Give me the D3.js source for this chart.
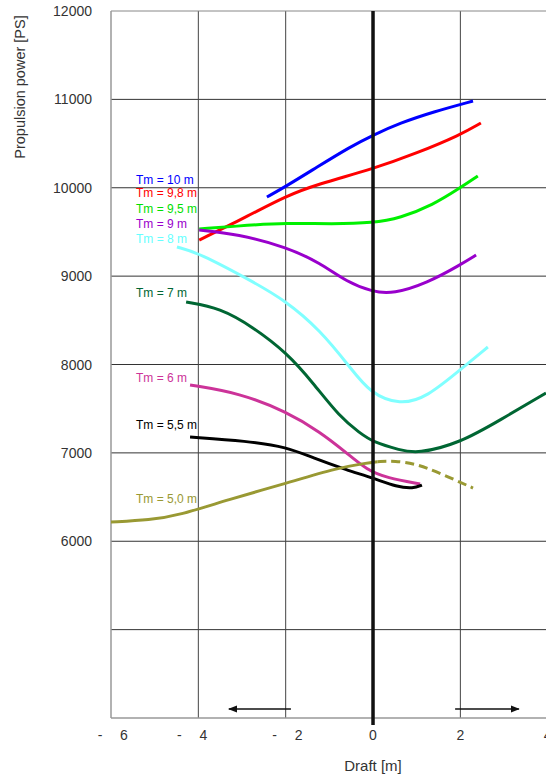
<!DOCTYPE html>
<html>
<head>
<meta charset="utf-8">
<script src="https://cdn.jsdelivr.net/npm/d3@7"></script>
<style>
  html, body { margin: 0; padding: 0; background: #fff; overflow: hidden; }
  svg { display: block; font-family: "Liberation Sans", Arial, sans-serif; }
</style>
</head>
<body>
<svg id="chart" width="546" height="777"></svg>
<script>
// Draft values (m) and propulsion power (PS) per mean draft Tm
const tm10  = [[-2.43, 9895], [-2.02, 10008], [-1.28, 10234], [-0.53, 10461], [0, 10596], [0.62, 10732], [1.37, 10857], [2.29, 10981]];
const tm98  = [[-3.98, 9408], [-2.82, 9691], [-2.02, 9900], [-1.28, 10040], [0, 10212], [1.01, 10393], [1.99, 10596], [2.47, 10732]];
const tm95  = [[-3.98, 9533], [-2.82, 9578], [-2.02, 9601], [-0.92, 9590], [0, 9601], [0.62, 9657], [1.37, 9804], [1.99, 9997], [2.40, 10133]];
const tm9   = [[-3.98, 9522], [-3.11, 9476], [-1.97, 9329], [-1.21, 9148], [-0.60, 8933], [0, 8820], [0.46, 8800], [1.24, 8922], [1.99, 9126], [2.36, 9239]];
const tm8   = [[-4.49, 9329], [-3.98, 9261], [-2.82, 8956], [-2.02, 8730], [-1.21, 8390], [-0.53, 7971], [-0.07, 7677], [0.62, 7540], [1.24, 7632], [1.99, 7937], [2.63, 8198]];
const tm7   = [[-4.28, 8707], [-3.50, 8639], [-2.75, 8424], [-1.97, 8130], [-1.37, 7790], [-0.76, 7406], [-0.30, 7225], [0, 7123], [0.62, 7032], [1.01, 6990], [1.99, 7111], [2.91, 7372], [3.96, 7677]];
const tm6   = [[-4.19, 7768], [-3.05, 7677], [-1.97, 7462], [-1.21, 7236], [-0.60, 6998], [-0.14, 6806], [0.32, 6716], [1.08, 6648]];
const tm55  = [[-4.19, 7179], [-2.89, 7134], [-1.97, 7066], [-1.37, 6942], [-0.60, 6806], [0, 6716], [0.55, 6614], [0.92, 6595], [1.12, 6636]];
const tm50  = [[-6.00, 6218], [-5.11, 6240], [-4.42, 6297], [-3.34, 6467], [-1.97, 6659], [-0.82, 6829], [-0.14, 6885], [0.10, 6900]];
const tm50d = [[0.10, 6900], [0.50, 6910], [1.00, 6875], [1.53, 6772], [2.29, 6602]];

const yTicks = [6000, 7000, 8000, 9000, 10000, 11000, 12000];
const yGrid  = [5000, 6000, 7000, 8000, 9000, 10000, 11000];
const xTicks = [-6, -4, -2, 0, 2, 4];

const series = [
  { data: tm10,  color: "#0000ff" },
  { data: tm98,  color: "#ff0000" },
  { data: tm95,  color: "#00f000" },
  { data: tm9,   color: "#9900cc" },
  { data: tm8,   color: "#80ffff" },
  { data: tm7,   color: "#006633" },
  { data: tm6,   color: "#cc3399" },
  { data: tm55,  color: "#000000" },
  { data: tm50,  color: "#999933" },
  { data: tm50d, color: "#999933", dash: "9,5" }
];

const legend = [
  { text: "Tm = 10 m",  color: "#0000ff", x: 136, y: 184 },
  { text: "Tm = 9,8 m", color: "#ff0000", x: 136, y: 197 },
  { text: "Tm = 9,5 m", color: "#00e000", x: 136, y: 213 },
  { text: "Tm = 9 m",   color: "#9900cc", x: 136, y: 228 },
  { text: "Tm = 8 m",   color: "#66ffff", x: 136, y: 243 },
  { text: "Tm = 7 m",   color: "#006633", x: 136, y: 297 },
  { text: "Tm = 6 m",   color: "#cc3399", x: 136, y: 382 },
  { text: "Tm = 5,5 m", color: "#000000", x: 136, y: 429 },
  { text: "Tm = 5,0 m", color: "#999933", x: 136, y: 503 }
];

const svg = d3.select("#chart");
const x = d3.scaleLinear().domain([-6, 4]).range([111, 547.7]);
const y = d3.scaleLinear().domain([4000, 12000]).range([718, 11]);

// grid
const grid = svg.append("g");
grid.selectAll("line.h").data(yGrid).join("line")
  .attr("x1", x(-6)).attr("x2", 546).attr("y1", d => y(d)).attr("y2", d => y(d))
  .attr("stroke", "#333").attr("stroke-width", 1);
grid.selectAll("line.v").data([-4, -2, 2]).join("line")
  .attr("x1", d => x(d)).attr("x2", d => x(d)).attr("y1", y(12000)).attr("y2", y(4000))
  .attr("stroke", "#444").attr("stroke-width", 1);
// frame
grid.append("line").attr("x1", x(-6)).attr("x2", 546).attr("y1", y(12000)).attr("y2", y(12000)).attr("stroke", "#888");
grid.append("line").attr("x1", x(-6)).attr("x2", 546).attr("y1", y(4000)).attr("y2", y(4000)).attr("stroke", "#999").attr("stroke-width", 1.5);
grid.append("line").attr("x1", x(-6)).attr("x2", x(-6)).attr("y1", y(12000)).attr("y2", y(4000)).attr("stroke", "#999").attr("stroke-width", 1.5);

// y tick labels
svg.append("g").selectAll("text").data(yTicks).join("text")
  .attr("x", 92).attr("y", d => y(d) + 5)
  .attr("text-anchor", "end").attr("font-size", 14).attr("fill", "#333")
  .text(d => d);

// x tick labels, written with a detached minus sign
const minusShift = { "-6": 0, "-4": -8, "-2": 0 };
const xl = svg.append("g").attr("font-size", 14).attr("fill", "#333");
xTicks.forEach(d => {
  if (d < 0) {
    const s = minusShift[d] || 0;
    xl.append("text").attr("x", x(d) - 11 + s).attr("y", 740).attr("text-anchor", "middle").text("-");
    xl.append("text").attr("x", x(d) + 13 + s).attr("y", 740).attr("text-anchor", "middle").text(Math.abs(d));
  } else {
    xl.append("text").attr("x", x(d)).attr("y", 740).attr("text-anchor", "middle").text(d);
  }
});

// axis titles
svg.append("text").attr("transform", "translate(25,87) rotate(-90)")
  .attr("text-anchor", "middle").attr("font-size", 14.5).attr("fill", "#333")
  .text("Propulsion power [PS]");
svg.append("text").attr("x", x(0)).attr("y", 771)
  .attr("text-anchor", "middle").attr("font-size", 15).attr("fill", "#333")
  .text("Draft [m]");

// direction arrows
const defs = svg.append("defs");
defs.append("marker").attr("id", "ah").attr("viewBox", "0 0 10 10")
  .attr("refX", 9).attr("refY", 5).attr("markerWidth", 6).attr("markerHeight", 6)
  .attr("orient", "auto-start-reverse")
  .append("path").attr("d", "M0,1 L10,5 L0,9 Z").attr("fill", "#111");
svg.append("line").attr("x1", x(-1.88)).attr("x2", x(-3.3)).attr("y1", 709).attr("y2", 709)
  .attr("stroke", "#111").attr("stroke-width", 1.5).attr("marker-end", "url(#ah)");
svg.append("line").attr("x1", x(1.88)).attr("x2", x(3.34)).attr("y1", 709).attr("y2", 709)
  .attr("stroke", "#111").attr("stroke-width", 1.5).attr("marker-end", "url(#ah)");

// curves: smoothed B-spline through the sampled points
const line = d3.line().x(d => x(d[0])).y(d => y(d[1])).curve(d3.curveBasis);
svg.append("g").selectAll("path").data(series).join("path")
  .attr("d", d => line(d.data))
  .attr("fill", "none").attr("stroke", d => d.color).attr("stroke-width", 3)
  .attr("stroke-dasharray", d => d.dash || null);

// zero-draft line
svg.append("line").attr("x1", x(0)).attr("x2", x(0)).attr("y1", y(12000)).attr("y2", 725)
  .attr("stroke", "#111").attr("stroke-width", 3.5);

// curve labels
svg.append("g").selectAll("text").data(legend).join("text")
  .attr("x", d => d.x).attr("y", d => d.y)
  .attr("font-size", 12).attr("fill", d => d.color).text(d => d.text);
</script>
</body>
</html>
